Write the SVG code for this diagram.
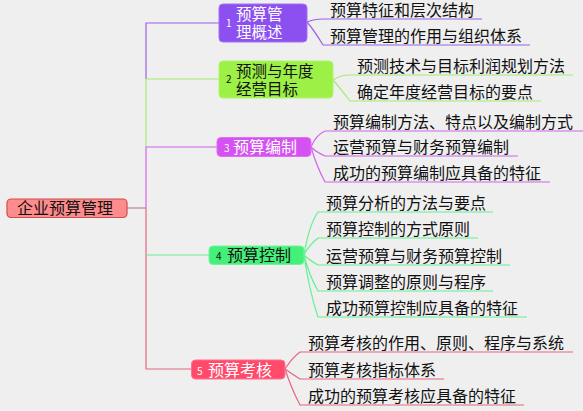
<svg xmlns="http://www.w3.org/2000/svg" width="583" height="411" viewBox="0 0 583 411">
<style>
text{font-family:"Noto Sans CJK SC","Noto Sans",sans-serif;font-size:16px;fill:#111}
.t{font-size:15.5px}
.w{fill:#fff}
.n{font-size:10px}
.c path,.c line{fill:none;stroke-width:1.2}
.p{stroke:#9a62e8}
.g{stroke:#a4ec70}
.m{stroke:#d464ec}
.q{stroke:#64f090}
.r{stroke:#e46882}
</style>
<rect width="583" height="411" fill="#efefef"/>
<g class="c" id="connectors">
<line x1="127" y1="208" x2="146" y2="208" stroke="#b08c8c" stroke-width="1.5"/>
<path class="p" d="M146 79V23H219"/>
<path class="g" d="M146 147V79H219"/>
<path class="m" d="M146 208V147H217"/>
<path class="r" d="M146 208V369H191"/>
<path class="q" d="M146 255H209"/>
<path class="p" d="M307 22Q314 19 323 19H482M307 22Q314 30 323 45H530"/>
<path class="g" d="M333 80Q340 75 350 75H573M333 80Q340 88 350 101H541"/>
<path class="m" d="M311 147Q316 135 325 131H583M311 147Q316 152 325 156H518M311 147Q316 165 325 182H550"/>
<path class="q" d="M304 255Q309 225 318 212H493M304 255Q309 245 318 238H478M304 255Q309 260 318 265H510M304 255Q309 275 318 291H493M304 255Q309 290 318 317H527"/>
<path class="r" d="M285 369Q292 358 300 352H573M285 369Q292 374 300 379H444M285 369Q292 390 300 405H524"/>
</g>
<g id="root">
<rect x="7" y="199" width="120" height="18.5" rx="4" fill="#ff8c8c" stroke="#d24c4c" stroke-width="1.2"/>
<text x="17" y="214">企业预算管理</text>
</g>
<g id="n1">
<rect x="219" y="4" width="88" height="38" rx="4" fill="#8c50f0" stroke="#a070f4" stroke-width="1"/>
<text class="n w" x="226" y="27">1</text>
<text class="t w" x="236" y="20">预算管</text>
<text class="t w" x="236" y="38">理概述</text>
</g>
<g id="n2">
<rect x="219" y="61" width="114" height="37" rx="4" fill="#9cf046" stroke="#b0f470" stroke-width="1"/>
<text class="n" x="226" y="83">2</text>
<text class="t" x="236" y="77">预测与年度</text>
<text class="t" x="236" y="95">经营目标</text>
</g>
<g id="n3">
<rect x="217" y="137.5" width="94" height="19" rx="4" fill="#d452f2" stroke="#e070f4" stroke-width="1"/>
<text class="n w" x="224" y="152">3</text>
<text class="w" x="233" y="153">预算编制</text>
</g>
<g id="n4">
<rect x="209" y="246" width="95" height="18.5" rx="4" fill="#44f07a" stroke="#70f49a" stroke-width="1"/>
<text class="n" x="216" y="260">4</text>
<text x="227" y="261">预算控制</text>
</g>
<g id="n5">
<rect x="191.5" y="360" width="93.5" height="19" rx="4" fill="#ff4a6c" stroke="#ff7090" stroke-width="1"/>
<text class="n w" x="197" y="375">5</text>
<text class="w" x="208" y="376">预算考核</text>
</g>
<g id="leaves">
<text x="330" y="16">预算特征和层次结构</text>
<text x="330" y="42">预算管理的作用与组织体系</text>
<text x="357" y="72">预测技术与目标利润规划方法</text>
<text x="357" y="98">确定年度经营目标的要点</text>
<text x="333" y="128">预算编制方法、特点以及编制方式</text>
<text x="333" y="153">运营预算与财务预算编制</text>
<text x="333" y="179">成功的预算编制应具备的特征</text>
<text x="326" y="209">预算分析的方法与要点</text>
<text x="326" y="235">预算控制的方式原则</text>
<text x="326" y="262">运营预算与财务预算控制</text>
<text x="326" y="288">预算调整的原则与程序</text>
<text x="326" y="314">成功预算控制应具备的特征</text>
<text x="308" y="349">预算考核的作用、原则、程序与系统</text>
<text x="308" y="376">预算考核指标体系</text>
<text x="308" y="402">成功的预算考核应具备的特征</text>
</g>
</svg>
